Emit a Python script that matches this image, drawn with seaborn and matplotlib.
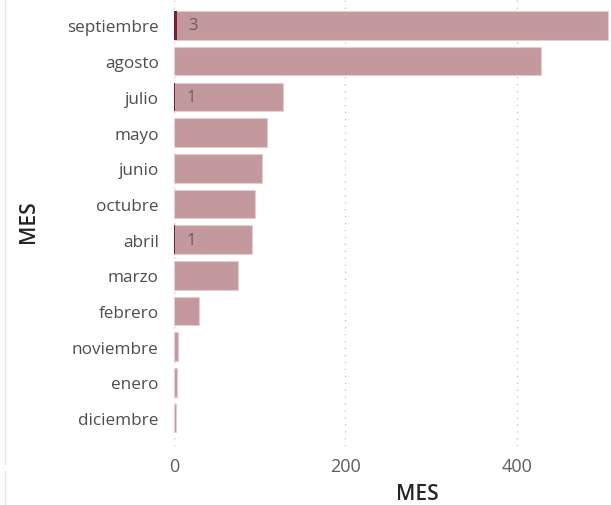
import matplotlib
matplotlib.use("Agg")
import matplotlib.pyplot as plt
import seaborn as sns
import pandas as pd
from matplotlib.lines import Line2D

# Monthly totals (light bars) and highlighted counts (dark bars)
meses = ["septiembre", "agosto", "julio", "mayo", "junio", "octubre",
         "abril", "marzo", "febrero", "noviembre", "enero", "diciembre"]
total = [507, 428, 127, 108, 103, 95, 91, 75, 29, 5, 4, 2]
destacado = [3, 0, 1, 0, 0, 0, 1, 0, 0, 0, 0, 0]
x_ticks = [0, 200, 400]

sns.set_theme(style="white")
plt.rcParams["font.family"] = ["Open Sans", "DejaVu Sans"]

df = pd.DataFrame({"MES": meses, "total": total, "destacado": destacado})

fig = plt.figure(figsize=(6.11, 5.06), dpi=100)
ax = fig.add_axes([174 / 611, 1 - 447 / 506, 1 - 174 / 611, 447 / 506])

sns.barplot(data=df, y="MES", x="total", order=meses, orient="h",
            color="#c3999e", saturation=1, width=0.8,
            edgecolor="#e3cdd0", linewidth=0.8, ax=ax, zorder=2)
sns.barplot(data=df, y="MES", x="destacado", order=meses, orient="h",
            color="#7d1f2f", saturation=1, width=0.8,
            linewidth=0, ax=ax, zorder=3)

# value labels for the highlighted bars
for i, v in enumerate(destacado):
    if v > 0:
        ax.annotate(str(v), xy=(v, i), xytext=(12, 0), textcoords="offset pixels",
                    ha="left", va="center", fontsize=12, color="#605e5c",
                    zorder=4)

ax.set_xlim(0, 510)
ax.set_ylim(11.78, -0.74)
ax.set_xticks(x_ticks)
ax.set_xticklabels([str(t) for t in x_ticks])
ax.tick_params(axis="x", length=0, pad=8, labelsize=13, labelcolor="#605e5c")
ax.tick_params(axis="y", length=0, pad=11, labelsize=12.3, labelcolor="#4f4d4b")

for t in x_ticks:
    ax.axvline(t, color="#c8c8c8", linestyle=(0, (1, 4)), linewidth=1, zorder=1)

for s in ax.spines.values():
    s.set_visible(False)

ax.set_xlabel("MES", fontsize=15, fontweight="semibold", color="#252423")
ax.set_ylabel("MES", fontsize=15, fontweight="semibold", color="#252423")
ax.xaxis.set_label_coords((417 - 174) / (611 - 174), -(484 - 447) / 447)
ax.yaxis.set_label_coords(-(174 - 39) / (611 - 174), (447 - 222) / 447)

# faint panel border on the left
fig.add_artist(Line2D([5 / 611, 5 / 611], [1 - 465 / 506, 1.0],
                      color="#e6e6e6", linewidth=1))
fig.add_artist(Line2D([5 / 611, 5 / 611], [0, 1 - 472 / 506],
                      color="#e6e6e6", linewidth=1))

fig.savefig("out.png", dpi=100)
